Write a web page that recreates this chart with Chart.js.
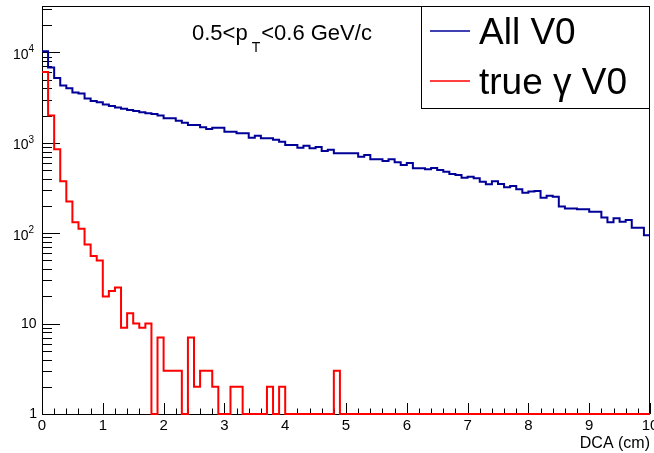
<!DOCTYPE html>
<html>
<head>
<meta charset="utf-8">
<script src="https://cdn.jsdelivr.net/npm/chart.js@4/dist/chart.umd.min.js"></script>
<style>
  html, body { margin: 0; padding: 0; background: #fff; }
  #wrap { width: 654px; height: 453px; position: relative; }
</style>
</head>
<body>
<div id="wrap"><canvas id="c" width="654" height="453"></canvas></div>
<script>
// ---- data (DCA histogram, 100 bins of 0.1 cm from 0 to 10) ----
const binEdgesStart = 0;
const binWidth = 0.1;
const seriesNames = ["All V0", "true \u03b3 V0"];
const allV0 = [
  10300, 6800, 5200, 4300, 4000, 3600, 3500, 3100, 2900, 2800,
  2650, 2550, 2450, 2380, 2300, 2250, 2180, 2120, 2080, 2000,
  1865, 1865, 1757, 1668, 1573, 1573, 1483, 1420, 1470, 1470,
  1327, 1327, 1273, 1273, 1138, 1200, 1122, 1122, 1080, 1028,
  946, 946, 883, 929, 869, 899, 811, 839, 765, 765,
  765, 765, 703, 733, 656, 656, 629, 656, 608, 568,
  598, 522, 522, 509, 526, 500, 479, 452, 441, 411,
  422, 405, 371, 347, 375, 350, 322, 333, 306, 281,
  290, 293, 247, 260, 253, 197, 188, 188, 184, 184,
  173, 173, 149, 132, 146, 134, 140, 115, 115, 95
];
const trueGammaV0 = [
  6070, 2000, 850, 376, 224, 132, 112, 75, 56, 50,
  20, 23, 25, 9, 13, 10, 9, 10, 0, 7,
  3, 3, 3, 0, 7, 2, 3, 3, 2, 0,
  0, 2, 2, 0, 0, 0, 0, 2, 0, 2,
  0, 0, 0, 0, 0, 0, 0, 0, 3, 0,
  0, 0, 0, 0, 0, 0, 0, 0, 0, 0,
  0, 0, 0, 0, 0, 0, 0, 0, 0, 0,
  0, 0, 0, 0, 0, 0, 0, 0, 0, 0,
  0, 0, 0, 0, 0, 0, 0, 0, 0, 0,
  0, 0, 0, 0, 0, 0, 0, 0, 0, 0
];
const xMajorTicks = [0, 1, 2, 3, 4, 5, 6, 7, 8, 9, 10];
const yMajorTicks = [1, 10, 100, 1000, 10000];
const xMin = 0, xMax = 10, yMin = 1, yMax = 32600;
const xTitle = "DCA (cm)";

// ---- build step-histogram points from the arrays ----
function histPoints(vals) {
  const pts = vals.map((v, i) => ({ x: binEdgesStart + i * binWidth, y: v > 0 ? v : yMin }));
  pts.push({ x: binEdgesStart + vals.length * binWidth, y: vals[vals.length - 1] > 0 ? vals[vals.length - 1] : yMin });
  return pts;
}

const FONT = '"Liberation Sans", Arial, Helvetica, sans-serif';
const BLUE = '#000099';
const RED = '#ff0000';

function hline(ctx, x1, y1, x2, y2) {
  ctx.beginPath(); ctx.moveTo(x1, y1); ctx.lineTo(x2, y2); ctx.stroke();
}

const rootStyle = {
  id: 'rootStyle',
  beforeDatasetsDraw(chart) {
    const { ctx, chartArea: a, scales: { x, y } } = chart;
    ctx.save();
    ctx.strokeStyle = '#000';
    ctx.lineWidth = 1;
    ctx.strokeRect(a.left + 0.5, a.top + 0.5, a.right - a.left - 1, a.bottom - a.top);
    // x ticks (inward)
    for (let i = 0; i <= 50; i++) {
      const v = i * 0.2;
      const px = Math.round(x.getPixelForValue(v)) + 0.5;
      const len = (i % 5 === 0) ? 11 : 5.5;
      hline(ctx, px, a.bottom, px, a.bottom - len);
    }
    // y ticks (log, inward)
    for (let d = 0; d <= 4; d++) {
      for (let m = 1; m <= 9; m++) {
        const v = m * Math.pow(10, d);
        if (v > yMax) break;
        const py = Math.round(y.getPixelForValue(v)) + 0.5;
        const len = (m === 1) ? 18 : 10;
        hline(ctx, a.left, py, a.left + len, py);
      }
    }
    ctx.restore();
  },
  afterDraw(chart) {
    const { ctx, chartArea: a, scales: { x, y } } = chart;
    ctx.save();
    ctx.fillStyle = '#000';
    // x labels
    ctx.font = '15px ' + FONT;
    ctx.textAlign = 'center';
    ctx.textBaseline = 'middle';
    xMajorTicks.forEach(v => {
      ctx.fillText(String(v), x.getPixelForValue(v), 426);
    });
    // x title
    ctx.font = '16px ' + FONT;
    ctx.textAlign = 'right';
    ctx.textBaseline = 'alphabetic';
    ctx.fillText(xTitle, 650, 448);
    // y labels
    yMajorTicks.forEach(v => {
      const py = y.getPixelForValue(v);
      const e = Math.round(Math.log10(v));
      ctx.textBaseline = 'middle';
      if (e === 0) {
        ctx.font = '14px ' + FONT; ctx.textAlign = 'right';
        ctx.fillText('1', 37, py + 0.5);
      } else if (e === 1) {
        ctx.font = '14px ' + FONT; ctx.textAlign = 'right';
        ctx.fillText('10', 36.5, py + 1);
      } else {
        ctx.font = '14px ' + FONT; ctx.textAlign = 'right';
        ctx.fillText('10', 28.5, py + 2.5);
        ctx.font = '10px ' + FONT; ctx.textAlign = 'left';
        ctx.fillText(String(e), 28.5, py - 3);
      }
    });
    // title text 0.5<pT<0.6 GeV/c
    ctx.textAlign = 'left';
    ctx.textBaseline = 'alphabetic';
    ctx.font = '22px ' + FONT;
    let tx = 192;
    const t1 = '0.5<p';
    ctx.fillText(t1, tx, 40);
    tx += ctx.measureText(t1).width + 4;
    ctx.font = '14px ' + FONT;
    ctx.fillText('T', tx, 51.5);
    tx += ctx.measureText('T').width + 1;
    ctx.font = '22px ' + FONT;
    ctx.fillText('<0.6 GeV/c', tx, 40);
    // legend box
    const lx1 = 421, ly1 = 6, lx2 = 650, ly2 = 108;
    ctx.fillStyle = '#fff';
    ctx.fillRect(lx1, ly1, lx2 - lx1, ly2 - ly1);
    ctx.strokeStyle = '#000';
    ctx.lineWidth = 1;
    ctx.strokeRect(lx1 + 0.5, ly1 + 0.5, lx2 - lx1 - 1, ly2 - ly1);
    const ds = chart.data.datasets;
    const rows = [31, 81];
    const bases = [43.5, 93.5];
    ds.forEach((d, i) => {
      ctx.strokeStyle = d.borderColor;
      ctx.lineWidth = 1.5;
      hline(ctx, 430, rows[i], 470, rows[i]);
      ctx.fillStyle = '#000';
      ctx.font = '37px ' + FONT;
      ctx.fillText(d.label, 479, bases[i]);
    });
    ctx.restore();
  }
};

new Chart(document.getElementById('c'), {
  type: 'line',
  data: {
    datasets: [
      { label: seriesNames[0], data: histPoints(allV0), borderColor: BLUE, borderWidth: 2,
        stepped: true, pointRadius: 0, fill: false, clip: false, borderJoinStyle: 'miter' },
      { label: seriesNames[1], data: histPoints(trueGammaV0), borderColor: RED, borderWidth: 2,
        stepped: true, pointRadius: 0, fill: false, clip: false, borderJoinStyle: 'miter' }
    ]
  },
  options: {
    responsive: false,
    animation: false,
    devicePixelRatio: 1,
    layout: { padding: { left: 42, top: 6, right: 4, bottom: 39 } },
    plugins: { legend: { display: false }, tooltip: { enabled: false } },
    scales: {
      x: { type: 'linear', min: xMin, max: xMax, display: false },
      y: { type: 'logarithmic', min: yMin, max: yMax, display: false }
    }
  },
  plugins: [rootStyle]
});
</script>
</body>
</html>
